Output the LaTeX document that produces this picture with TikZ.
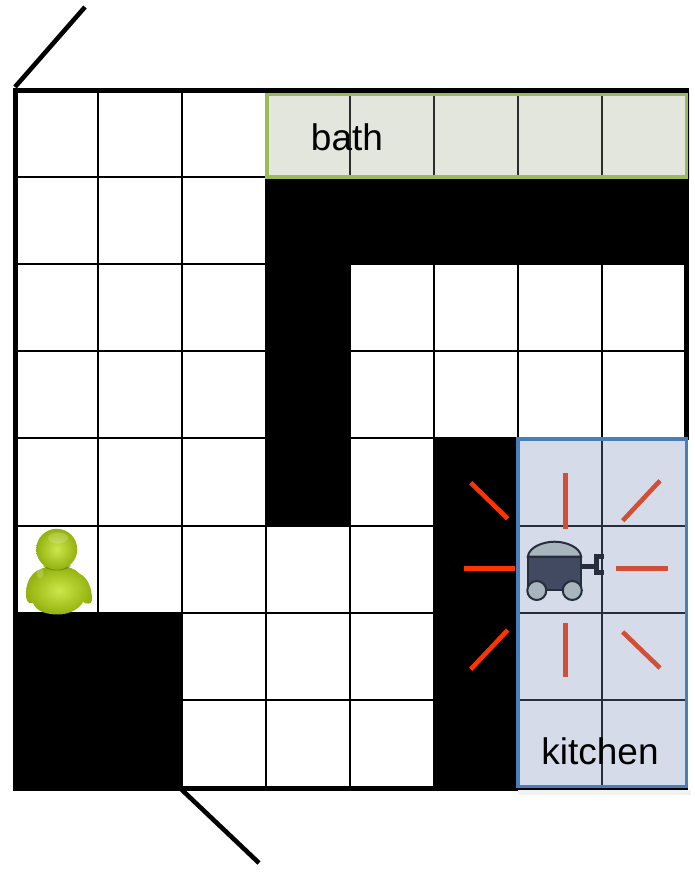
\documentclass[tikz,border=0pt]{standalone}
\usepackage{fontspec}
\setmainfont{Liberation Sans}
\definecolor{rayA}{HTML}{FF3300}
\definecolor{rayB}{HTML}{D24F35}
\definecolor{kfill}{HTML}{D5DBE8}
\definecolor{kline}{HTML}{4A7EBB}
\definecolor{bfill}{HTML}{E3E6DC}
\definecolor{bline}{HTML}{9BBB59}
\definecolor{rdark}{HTML}{262D3D}
\definecolor{rbody}{HTML}{414A60}
\definecolor{rgrey}{HTML}{A9B5BC}
\definecolor{gLight}{HTML}{CDE64A}
\definecolor{gDark}{HTML}{93B20E}
\tikzset{
  gridline/.style={line width=2.2pt,black},
  zoneline/.style={line width=2.2pt,rdark},
  wall/.style={fill=black,draw=none},
  rayhot/.style={line width=4.6pt,rayA},
  raysoft/.style={line width=4.6pt,rayB},
  label/.style={font=\fontsize{37}{37}\selectfont,text=black,inner sep=0pt,anchor=base},
  diag/.style={line width=4.6pt,black},
  rline/.style={draw=rdark,line width=2pt}
}
\begin{document}
\begin{tikzpicture}[x=1pt,y=-1pt]
\useasboundingbox (0,0) rectangle (695,876);
\fill[white] (0,0) rectangle (695,876);
% grid
\foreach \gx in {98,182,266,350,434,518,602} \draw[gridline] (\gx,90) -- (\gx,788);
\foreach \gy in {177,264,351,438,526,613,700} \draw[gridline] (15,\gy) -- (686,\gy);
% walls
\fill[wall] (266,177) rectangle (688,264);
\fill[wall] (266,264) rectangle (351,526);
\fill[wall] (434,438) rectangle (518,790);
\fill[wall] (13,612) rectangle (182,790);
% outer border
\draw[line width=5pt,black] (15.3,90) -- (686,90) -- (686,788.5) -- (15.3,788.5) -- cycle;
% bath zone
\fill[black,opacity=.08] (265,93) rectangle (690,180);
\fill[bfill] (267,94.7) rectangle (686.7,177);
\foreach \gx in {350,434,518,602} \draw[line width=1.8pt,black!80!bfill] (\gx,94) -- (\gx,177);
\draw[bline,line width=3.4pt] (267,94.7) rectangle (686.7,177);
\node[label] (bath) at (347,150) {bath};
% kitchen zone
\fill[white] (688.3,440) rectangle (695,800);
\fill[white] (518,790.3) rectangle (695,800);
\fill[black,opacity=.05] (518,790) rectangle (691,795);
\fill[kfill] (518,439) rectangle (686.7,786.7);
\foreach \gx in {602} \draw[zoneline] (\gx,439) -- (\gx,786);
\foreach \gy in {526,613,700} \draw[zoneline] (518,\gy) -- (686,\gy);
\draw[kline,line width=3.4pt] (518,439) rectangle (686.7,786.7);
\node[label] (kitchen) at (600,764) {kitchen};
% rays
\draw[rayhot] (470.7,482.7) -- (507.7,518.7);
\draw[rayhot] (464,568.3) -- (515.3,568.3);
\draw[rayhot] (507.7,630) -- (470.7,669.3);
\draw[raysoft] (565.3,473.3) -- (565.3,528.7);
\draw[raysoft] (660,480.7) -- (622.7,520.7);
\draw[raysoft] (616.3,568.3) -- (667.7,568.3);
\draw[raysoft] (565.3,623.3) -- (565.3,677.3);
\draw[raysoft] (622.7,632) -- (660,668);
% robot
\draw[rdark,line width=5pt] (581,566) -- (596,566);
\draw[rdark,line width=5pt] (604,556.5) -- (596.5,556.5) -- (596.5,572) -- (604,572);
\filldraw[rline,fill=rgrey] (527.8,556.7) .. controls (529,547) and (543,541.7) .. (554.5,541.7) .. controls (566,541.7) and (580,547) .. (581.2,556.7) -- cycle;
\filldraw[rline,fill=rbody] (527.8,556.7) rectangle (581.2,590);
\filldraw[rline,fill=rgrey] (536.8,590.5) circle (9.5);
\filldraw[rline,fill=rgrey] (572.3,590.5) circle (9.5);
% person
\shade[inner color=gLight,outer color=gDark] (26,594) .. controls (26,578) and (34,566) .. (58,566) .. controls (70,566) and (76,570) .. (80,574) .. controls (88,578) and (92,588) .. (92,600) .. controls (92,605) and (86,604) .. (83,602) .. controls (78,611) and (66,614.5) .. (58,614.5) .. controls (46,614.5) and (36,611) .. (33,603) .. controls (28,605) and (26,600) .. (26,594) -- cycle;
\fill[black!50!gDark,opacity=.45] (43,566) .. controls (49,572) and (65,572) .. (71,566) -- (66,562) -- (48,562) -- cycle;
\shade[inner color=gLight,outer color=gDark] (56.7,549.3) circle (20.5);
\fill[white,opacity=.18] (58,538) ellipse (10 and 5.5);
\fill[white,opacity=.2] (40,573) ellipse (3.5 and 5.5);
% diagonals
\coordinate (d1a) at (15,87);
\coordinate (d1b) at (85,7);
\coordinate (d2a) at (181,789);
\coordinate (d2b) at (259,863);
\draw[diag] (d1a) -- (d1b);
\draw[diag] (d2a) -- (d2b);
\end{tikzpicture}
\end{document}
